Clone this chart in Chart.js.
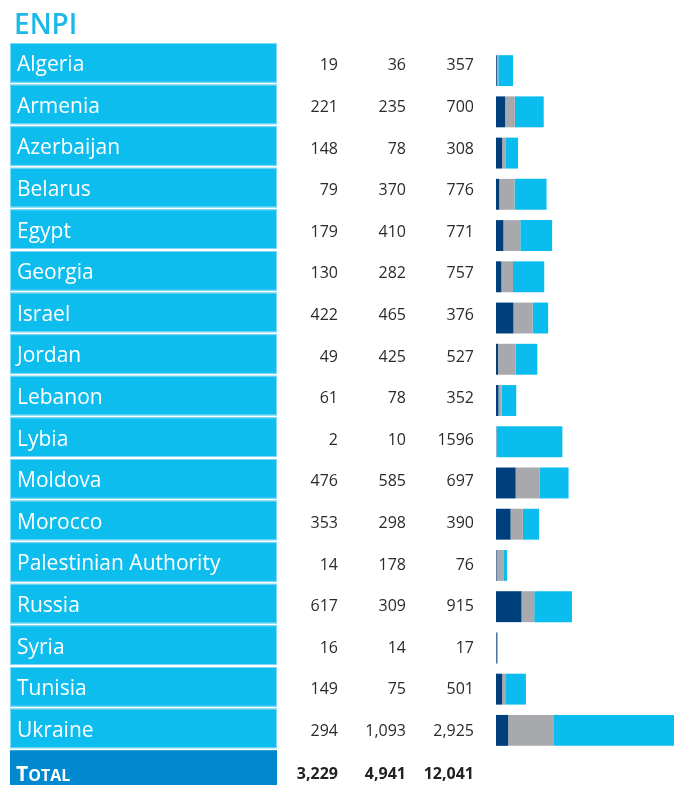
<!DOCTYPE html>
<html>
<head>
<meta charset="utf-8">
<script src="https://cdn.jsdelivr.net/npm/chart.js"></script>
<style>
  html, body { margin: 0; padding: 0; background: #fff; }
  #wrap { position: relative; width: 674px; height: 785px; }
</style>
</head>
<body>
<div id="wrap"><canvas id="enpiChart"></canvas></div>
<script>
// chart data
const countries = ['Algeria', 'Armenia', 'Azerbaijan', 'Belarus', 'Egypt', 'Georgia', 'Israel', 'Jordan',
  'Lebanon', 'Lybia', 'Moldova', 'Morocco', 'Palestinian Authority', 'Russia', 'Syria', 'Tunisia', 'Ukraine'];
const seriesA = [19, 221, 148, 79, 179, 130, 422, 49, 61, 2, 476, 353, 14, 617, 16, 149, 294];
const seriesB = [36, 235, 78, 370, 410, 282, 465, 425, 78, 10, 585, 298, 178, 309, 14, 75, 1093];
const seriesC = [357, 700, 308, 776, 771, 757, 376, 527, 352, 1596, 697, 390, 76, 915, 17, 501, 2925];
const totals = [3229, 4941, 12041];
const totalLabel = 'Total';
const title = 'ENPI';
// the source prints Lybia's figure without a thousands separator
const ungrouped = ['Lybia'];

const fmt = (n, name) => ungrouped.includes(name) ? String(n) : n.toLocaleString('en-US');
const font = '"Open Sans", "DejaVu Sans", sans-serif';

// draws the title, the label boxes and the number columns
// (the table rows sit on a slightly taller grid than the bars)
const tablePlugin = {
    id: 'table',
    beforeDatasetsDraw(chart) {
        const ctx = chart.ctx;
        const rowTop = 42;
        const pitch = 41.6;
        const colRight = [338, 406, 474];

        ctx.save();
        // title
        ctx.fillStyle = '#1cb9e8';
        ctx.font = '600 28px ' + font;
        ctx.textAlign = 'left';
        ctx.textBaseline = 'alphabetic';
        ctx.fillText(title, 14, 34);

        countries.forEach((name, i) => {
            const top = rowTop + i * pitch + 1;
            const cy = top + pitch / 2 - 1;
            ctx.fillStyle = '#0dbdee';
            ctx.fillRect(10, top, 267, pitch - 2);
            ctx.strokeStyle = '#7fd8f5';
            ctx.lineWidth = 1;
            ctx.strokeRect(10.5, top + 0.5, 266, pitch - 3);

            ctx.fillStyle = '#ffffff';
            ctx.font = '21px ' + font;
            ctx.textAlign = 'left';
            ctx.textBaseline = 'middle';
            ctx.fillText(name, 17, cy + 2.5);

            ctx.fillStyle = '#2b2b2b';
            ctx.font = '16px ' + font;
            ctx.textAlign = 'right';
            [seriesA[i], seriesB[i], seriesC[i]].forEach((v, k) => {
                ctx.fillText(fmt(v, name), colRight[k], cy + 3);
            });
        });

        // total row
        const ttop = rowTop + countries.length * pitch + 1;
        const ty = ttop + pitch / 2 - 1;
        ctx.fillStyle = '#0089cf';
        ctx.fillRect(10, ttop, 267, pitch);
        ctx.fillStyle = '#ffffff';
        ctx.textAlign = 'left';
        ctx.textBaseline = 'alphabetic';
        ctx.font = 'bold 21px ' + font;
        const first = totalLabel[0].toUpperCase();
        ctx.fillText(first, 16, ty + 11);
        const w = ctx.measureText(first).width;
        ctx.font = 'bold 16px ' + font;
        ctx.fillText(totalLabel.slice(1).toUpperCase(), 16 + w, ty + 11);

        ctx.fillStyle = '#222222';
        ctx.font = 'bold 16px ' + font;
        ctx.textAlign = 'right';
        ctx.textBaseline = 'middle';
        totals.forEach((v, k) => ctx.fillText(fmt(v, totalLabel), colRight[k], ty + 4));
        ctx.restore();
    }
};

const ctx = document.getElementById('enpiChart').getContext('2d');
new Chart(ctx, {
    type: 'bar',
    data: {
        labels: countries,
        datasets: [
            { data: seriesA, backgroundColor: '#003f7d' },
            { data: seriesB, backgroundColor: '#a7a9ac' },
            { data: seriesC, backgroundColor: '#0bbdef' }
        ]
    },
    options: {
        indexAxis: 'y',
        responsive: true,
        maintainAspectRatio: false,
        animation: false,
        layout: { padding: { left: 496, right: 0, top: 50, bottom: 34 } },
        datasets: { bar: { barPercentage: 0.75, categoryPercentage: 1 } },
        plugins: { legend: { display: false }, tooltip: { enabled: false } },
        scales: {
            x: { stacked: true, display: false, min: 0, max: 4312 },
            y: { stacked: true, display: false }
        }
    },
    plugins: [tablePlugin]
});
</script>
</body>
</html>
